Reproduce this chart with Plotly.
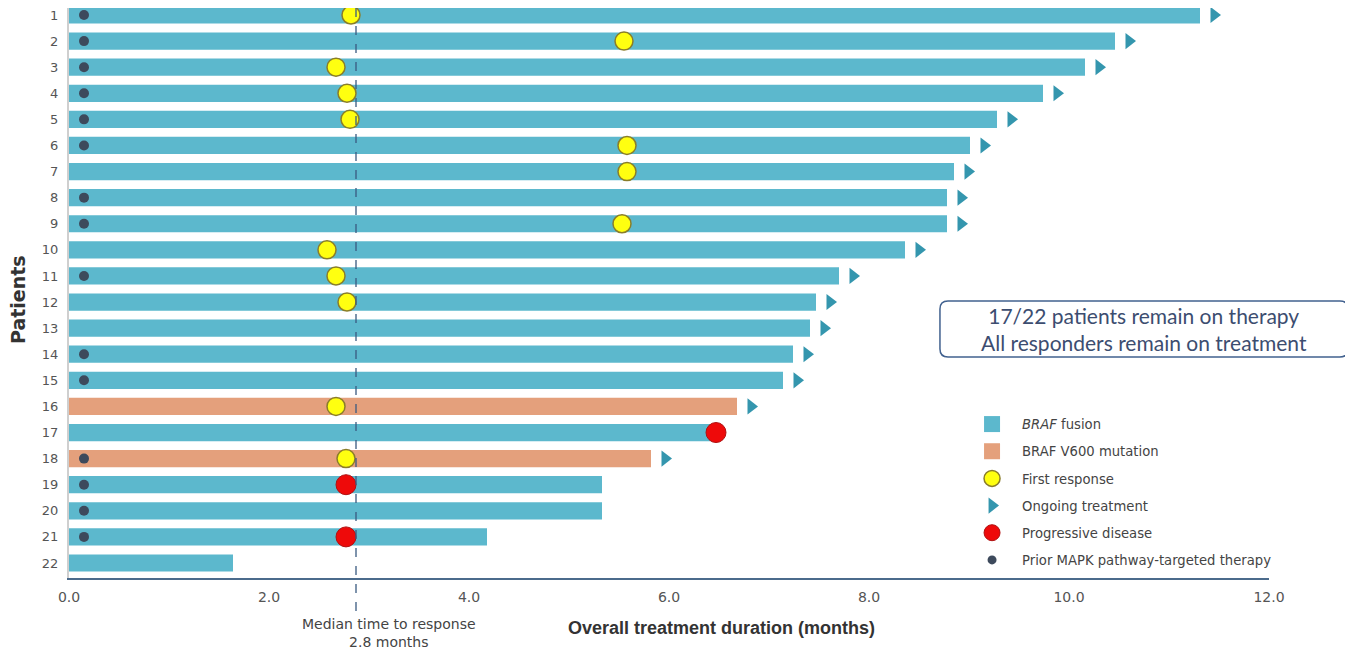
import plotly.graph_objects as go

# ---- data ----
patients = list(range(1, 23))
duration = [11.31, 10.46, 10.16, 9.74, 9.28, 9.01, 8.85, 8.78, 8.78, 8.36, 7.70,
            7.47, 7.41, 7.24, 7.14, 6.68, 6.44, 5.82, 5.33, 5.33, 4.18, 1.64]
alteration = ["fusion"] * 15 + ["v600", "fusion", "v600"] + ["fusion"] * 4
ongoing = [1] * 16 + [0, 1] + [0] * 4
resp_patients = [1, 2, 3, 4, 5, 6, 7, 9, 10, 11, 12, 16, 18]
resp_time = [2.82, 5.55, 2.67, 2.78, 2.81, 5.58, 5.58, 5.53, 2.58, 2.67, 2.78, 2.67, 2.77]
pd_patients = [17, 19, 21]
pd_time = [6.47, 2.77, 2.77]
prior_mapk = [1, 2, 3, 4, 5, 6, 8, 9, 11, 14, 15, 18, 19, 20, 21]
prior_x = 0.15
median_response = 2.87
arrow_gap = 0.14
x_ticks = [0, 2, 4, 6, 8, 10, 12]
x_tick_labels = ["0.0", "2.0", "4.0", "6.0", "8.0", "10.0", "12.0"]

TEAL = "#5cb8cd"
ORANGE = "#e4a07c"
TRI = "#3496ae"
DOT = "#3d4a5c"
YEL = "#ffff10"
RED = "#ee0a0a"
FONT = "DejaVu Sans"

fig = go.Figure()

fus_y = [p for p, a in zip(patients, alteration) if a == "fusion"]
fus_x = [d for d, a in zip(duration, alteration) if a == "fusion"]
v_y = [p for p, a in zip(patients, alteration) if a == "v600"]
v_x = [d for d, a in zip(duration, alteration) if a == "v600"]

fig.add_trace(go.Bar(y=fus_y, x=fus_x, orientation="h", width=0.66,
                     marker=dict(color=TEAL, line=dict(width=0)), showlegend=False))
fig.add_trace(go.Bar(y=v_y, x=v_x, orientation="h", width=0.66,
                     marker=dict(color=ORANGE, line=dict(width=0)), showlegend=False))

resp_marker = dict(symbol="circle", size=18, color=YEL, line=dict(color="#8a7d2a", width=1.5))
fig.add_trace(go.Scatter(x=resp_time, y=resp_patients, mode="markers",
                         marker=resp_marker, showlegend=False))

on_y = [p for p, o in zip(patients, ongoing) if o]
on_x = [d + arrow_gap for d, o in zip(duration, ongoing) if o]
tri_marker = dict(symbol="triangle-right", size=14, color=TRI)
fig.add_trace(go.Scatter(x=on_x, y=on_y, mode="markers", marker=tri_marker, showlegend=False))

pd_marker = dict(symbol="circle", size=20, color=RED, line=dict(color="#b01010", width=1))
fig.add_trace(go.Scatter(x=pd_time, y=pd_patients, mode="markers",
                         marker=pd_marker, showlegend=False))

dot_marker = dict(symbol="circle", size=10, color=DOT)
fig.add_trace(go.Scatter(x=[prior_x] * len(prior_mapk), y=prior_mapk, mode="markers",
                         marker=dot_marker, showlegend=False))

# legend keys
legend_items = [
    ("<i>BRAF</i> fusion", dict(symbol="square", size=17, color=TEAL)),
    ("BRAF V600 mutation", dict(symbol="square", size=17, color=ORANGE)),
    ("First response", dict(symbol="circle", size=16, color=YEL, line=dict(color="#8a7d2a", width=1.5))),
    ("Ongoing treatment", dict(symbol="triangle-right", size=14, color=TRI)),
    ("Progressive disease", dict(symbol="circle", size=16, color=RED, line=dict(color="#b01010", width=1))),
    ("Prior MAPK pathway-targeted therapy", dict(symbol="circle", size=9, color=DOT)),
]
for i, (nm, mk) in enumerate(legend_items):
    fig.add_trace(go.Scatter(x=[None], y=[None], mode="markers", marker=mk,
                             name=nm, legendgroup=f"g{i}", showlegend=True))

# median line
fig.add_shape(type="line", xref="x", yref="paper", x0=median_response, x1=median_response,
              y0=1, y1=-0.065, line=dict(color="#3a5a80", width=1.3, dash="dash"), layer="above")

fig.add_annotation(xref="x", yref="paper", x=median_response + 0.33, y=-0.063,
                   xanchor="center", yanchor="top",
                   text="Median time to response<br>2.8 months", showarrow=False,
                   font=dict(family=FONT, size=14, color="#444"))

# rounded box
x0, x1 = 0.7258, 1.0658
y0, y1 = 0.3877, 0.4859
rx, ry = 0.0067, 0.014
path = (f"M {x0+rx},{y1} L {x1-rx},{y1} Q {x1},{y1} {x1},{y1-ry} "
        f"L {x1},{y0+ry} Q {x1},{y0} {x1-rx},{y0} L {x0+rx},{y0} "
        f"Q {x0},{y0} {x0},{y0+ry} L {x0},{y1-ry} Q {x0},{y1} {x0+rx},{y1} Z")
fig.add_shape(type="path", xref="paper", yref="paper", path=path,
              line=dict(color="#41618f", width=1.5), fillcolor="white")
fig.add_annotation(xref="paper", yref="paper", x=(x0 + x1) / 2, y=(y0 + y1) / 2,
                   xanchor="center", yanchor="middle",
                   text="17/22 patients remain on therapy<br>All responders remain on treatment",
                   showarrow=False, font=dict(family="Lato", size=21, color="#3c4d70"))

# axis titles
fig.add_annotation(xref="paper", yref="paper", x=0.544, y=-0.067,
                   xanchor="center", yanchor="top",
                   text="<b>Overall treatment duration (months)</b>", showarrow=False,
                   font=dict(family="Liberation Sans", size=18, color="#333"))
fig.add_annotation(xref="paper", yref="paper", x=-0.0425, y=0.4895, textangle=-90,
                   xanchor="center", yanchor="middle",
                   text="<b>Patients</b>", showarrow=False,
                   font=dict(family=FONT, size=19, color="#333"))

fig.update_layout(
    width=1353, height=657,
    margin=dict(l=61, r=92, t=0, b=87),
    plot_bgcolor="white", paper_bgcolor="white",
    barmode="overlay",
    font=dict(family=FONT),
    legend=dict(x=0.7442, y=0.2965, xanchor="left", yanchor="top",
                traceorder="grouped", tracegroupgap=7, itemsizing="trace", itemwidth=50,
                font=dict(family=FONT, size=13.2, color="#444"),
                bgcolor="rgba(0,0,0,0)"),
    xaxis=dict(range=[0, 12], tickvals=x_ticks, ticktext=x_tick_labels,
               showgrid=False, zeroline=False, showline=True, linecolor="#4b6b8c",
               linewidth=2, ticks="outside", ticklen=5, tickcolor="rgba(0,0,0,0)",
               ticklabeloverflow="allow",
               tickfont=dict(family=FONT, size=14, color="#555")),
    yaxis=dict(range=[22.575, 0.732], tickvals=patients, ticktext=[str(p) for p in patients],
               showgrid=False, zeroline=False, showline=True, linecolor="#cfcfcf",
               linewidth=2, ticks="outside", ticklen=6, tickcolor="rgba(0,0,0,0)",
               ticklabeloverflow="allow",
               tickfont=dict(family=FONT, size=13, color="#555")),
)

fig.write_html("out.html")
